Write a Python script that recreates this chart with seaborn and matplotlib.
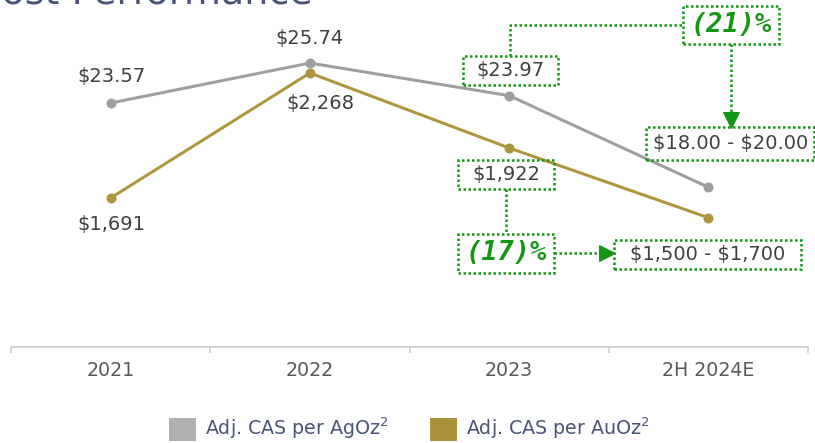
import numpy as np
import matplotlib
matplotlib.use("Agg")
import matplotlib.pyplot as plt
import seaborn as sns
from matplotlib.patches import Patch, Rectangle
from matplotlib.lines import Line2D
from matplotlib.transforms import IdentityTransform

# ----------------------------------------------------------
# Data
# ----------------------------------------------------------
years = ["2021", "2022", "2023", "2H 2024E"]
ag_cas = [23.57, 25.74, 23.97, 19.00]        # Adj. CAS per AgOz
au_cas = [1691, 2268, 1922, 1600]            # Adj. CAS per AuOz
ag_guidance = "$18.00 - $20.00"
au_guidance = "$1,500 - $1,700"
ag_change = "(21)%"
au_change = "(17)%"
title = "Cost Performance"
legend_labels = ["Adj. CAS per AgOz$^{2}$", "Adj. CAS per AuOz$^{2}$"]

GRAY = "#9e9e9e"
GOLD = "#ae963e"
GREEN = "#149614"
TXT = "#404040"
SLATE = "#4a5478"
DOT = (0, (1, 1))

# ----------------------------------------------------------
# Figure
# ----------------------------------------------------------
sns.set_theme(style="white")
plt.rcParams["font.family"] = ["DejaVu Sans"]

W, H = 815, 443
fig = plt.figure(figsize=(W / 72, H / 72), dpi=72)
ax = fig.add_axes([11 / W, (H - 347) / H, 797 / W, 347 / H])
ax2 = ax.twinx()

pos = np.arange(len(years))
sns.lineplot(x=pos, y=ag_cas, ax=ax, color=GRAY, lw=3, marker="o",
             markersize=10, markeredgewidth=0)
sns.lineplot(x=pos, y=au_cas, ax=ax2, color=GOLD, lw=3, marker="o",
             markersize=10, markeredgewidth=0)

ax.set_xlim(-0.5, len(years) - 0.5)
ax.set_ylim(10.33, 29.16)
ax2.set_ylim(1003, 2605)

for a in (ax, ax2):
    a.set_xlabel("")
    a.set_ylabel("")
    a.set_yticks([])
    for s in ("left", "right", "top"):
        a.spines[s].set_visible(False)
ax2.spines["bottom"].set_visible(False)
ax.spines["bottom"].set_color("#c8c8c8")
ax.spines["bottom"].set_linewidth(1.5)

ax.set_xticks(pos)
ax.set_xticklabels(years, fontsize=19, color="#595959")
ax.set_xticks(np.arange(-0.5, len(years)), minor=True)
ax.tick_params(axis="x", which="major", length=0, pad=14)
ax.tick_params(axis="x", which="minor", length=6, width=1.5,
               color="#c8c8c8", direction="out", bottom=True)

# ----------------------------------------------------------
# Labels and callouts (pixel offsets from the data points)
# ----------------------------------------------------------
fig.canvas.draw()
ID = IdentityTransform()


def pt(a, i, v, dx=0, dy=0):
    x, y = a.transData.transform((i, v))
    return x + dx, y + dy


def label(a, i, v, s, dx, dy, boxed=None, **kw):
    x, y = pt(a, i, v, dx, dy)
    style = dict(fontsize=19.5, color=TXT, ha="center", va="center")
    style.update(kw)
    fig.text(x, y, s.replace("$", r"\$"), transform=ID, **style)
    if boxed:
        w, h = boxed
        fig.add_artist(Rectangle((x - w / 2, y - h / 2), w, h, transform=ID,
                                 fill=False, ec=GREEN, lw=2.5, ls=DOT))


def dotted(a, i, v, offs, head=None):
    xs, ys = zip(*[pt(a, i, v, dx, dy) for dx, dy in offs])
    fig.add_artist(Line2D(xs, ys, transform=ID, color=GREEN, lw=2.5, ls=DOT))
    if head:
        fig.add_artist(Line2D([xs[-1]], [ys[-1]], transform=ID, color=GREEN,
                              marker=head, markersize=16, ls="none"))


big = dict(fontsize=27, color=GREEN, family="DejaVu Sans Mono",
           fontweight="bold", fontstyle="italic")

label(ax, 0, ag_cas[0], f"${ag_cas[0]:.2f}", 1, 27)
label(ax, 1, ag_cas[1], f"${ag_cas[1]:.2f}", 0, 24.5)
label(ax, 2, ag_cas[2], f"${ag_cas[2]:.2f}", 1.5, 25.5, boxed=(95, 29))
label(ax, 3, ag_cas[3], ag_guidance, 22, 43.5, boxed=(168, 33))
label(ax, 2, ag_cas[2], ag_change, 222, 71, boxed=(96, 38), **big)
dotted(ax, 2, ag_cas[2], [(1, 40), (1, 71), (174, 71)])
dotted(ax, 2, ag_cas[2], [(222, 52), (222, -24)], head="v")

label(ax2, 0, au_cas[0], f"${au_cas[0]:,.0f}", 1, -27)
label(ax2, 1, au_cas[1], f"${au_cas[1]:,.0f}", 10, -31)
label(ax2, 2, au_cas[2], f"${au_cas[2]:,.0f}", -3, -26.5, boxed=(96, 29))
label(ax2, 3, au_cas[3], au_guidance, -0.5, -36.5, boxed=(187, 29))
label(ax2, 2, au_cas[2], au_change, -3, -105.5, boxed=(96, 39), **big)
dotted(ax2, 2, au_cas[2], [(-3, -41), (-3, -86)])
dotted(ax2, 2, au_cas[2], [(45, -105.5), (97.5, -105.5)], head=">")

# ----------------------------------------------------------
# Title (clipped at top) and legend
# ----------------------------------------------------------
fig.text(313 / W, 1 - 4 / H, title, fontsize=38, color=SLATE,
         ha="right", va="baseline")

handles = [Patch(color="#b0b0b0"), Patch(color="#a8913a")]
fig.legend(handles, legend_labels, loc="center", bbox_to_anchor=(0.5025, 0.033),
           ncol=2, frameon=False, fontsize=19, labelcolor=SLATE,
           handlelength=1.37, handleheight=1.42, handletextpad=0.5,
           columnspacing=2.2, borderpad=0, borderaxespad=0)

fig.savefig("out.png", dpi=72)
